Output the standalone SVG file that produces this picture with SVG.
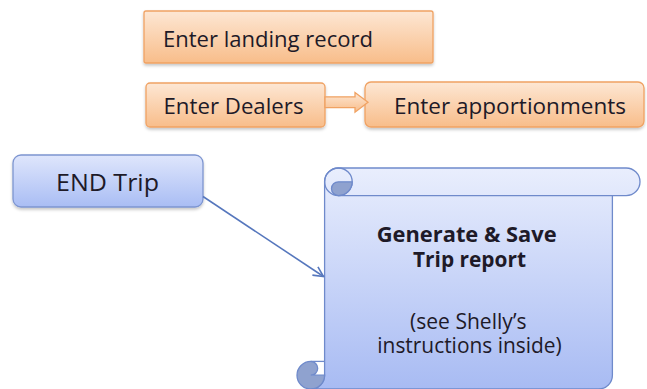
<svg xmlns="http://www.w3.org/2000/svg" width="647" height="389" viewBox="0 0 647 389">
  <defs>
    <linearGradient id="gOrange" x1="0" y1="0" x2="0" y2="1">
      <stop offset="0" stop-color="#fde7d4"/>
      <stop offset="1" stop-color="#f8bd8a"/>
    </linearGradient>
    <linearGradient id="gBlue" x1="0" y1="0" x2="0" y2="1">
      <stop offset="0" stop-color="#dfe6fc"/>
      <stop offset="1" stop-color="#a9bdf4"/>
    </linearGradient>
    <linearGradient id="gScroll" x1="0" y1="0" x2="0" y2="221" gradientUnits="userSpaceOnUse">
      <stop offset="0" stop-color="#e9eefd"/>
      <stop offset="1" stop-color="#a8bbf3"/>
    </linearGradient>
    <filter id="shadow" x="-10%" y="-20%" width="120%" height="150%">
      <feDropShadow dx="0" dy="2" stdDeviation="1.5" flood-color="#000" flood-opacity="0.22"/>
    </filter>
    <marker id="openArrow" viewBox="0 0 12 12" refX="11" refY="6" markerWidth="12" markerHeight="12" markerUnits="userSpaceOnUse" orient="auto">
      <path d="M1,1 L11,6 L1,11" fill="none" stroke="#5677bd" stroke-width="1.6"/>
    </marker>
    <style>
      .orange { fill: url(#gOrange); stroke: #f0a263; stroke-width: 1.3; }
      .blue { fill: url(#gBlue); stroke: #7d95d0; stroke-width: 1.3; }
      .lbl { font-family: "Open Sans", "Noto Sans", "Liberation Sans", sans-serif; font-size: 21px; fill: #1e1a28; }
      .bold { font-weight: bold; }
      .scrollLine { fill: none; stroke: #6f8acb; stroke-width: 1.3; }
      .scrollDark { fill: #8fa2cf; stroke: #6f8acb; stroke-width: 1.3; }
    </style>
  </defs>

  <g id="landing-record">
    <rect class="orange" x="144" y="11" width="289" height="52" rx="2" filter="url(#shadow)"/>
    <text class="lbl" x="163" y="46.5" textLength="210" lengthAdjust="spacingAndGlyphs">Enter landing record</text>
  </g>

  <g id="dealers">
    <rect class="orange" x="146" y="83" width="179" height="44" rx="4" filter="url(#shadow)"/>
    <text class="lbl" x="163.5" y="114" textLength="140" lengthAdjust="spacingAndGlyphs">Enter Dealers</text>
  </g>

  <g id="apportionments">
    <rect class="orange" x="365" y="82" width="279" height="45" rx="6" filter="url(#shadow)"/>
    <text class="lbl" x="394" y="114" textLength="232" lengthAdjust="spacingAndGlyphs">Enter apportionments</text>
  </g>

  <g id="end-trip">
    <rect class="blue" x="13" y="155" width="190" height="52" rx="8" filter="url(#shadow)"/>
    <text class="lbl" x="56" y="190.5" style="font-size:23px" textLength="103" lengthAdjust="spacingAndGlyphs">END Trip</text>
  </g>

  <g id="trip-report">
    <g transform="translate(297,168)">
      <!-- scroll body -->
      <path d="M13.8,221 A13.8,13.8 0 0 0 27.6,207.2 L27.6,13.8 A13.8,13.8 0 0 1 41.4,0 L329.2,0 A13.8,13.8 0 0 1 329.2,27.6 L315.4,27.6 L315.4,207.2 A13.8,13.8 0 0 1 301.6,221 Z" fill="url(#gScroll)" stroke="#6f8acb" stroke-width="1.3"/>
      <!-- top roll -->
      <path class="scrollLine" d="M41.4,27.6 L315.4,27.6"/>
      <circle class="scrollLine" cx="41.4" cy="13.8" r="13.8" fill="#e6ecfc"/>
      <path class="scrollDark" d="M55.2,13.8 A13.8,13.8 0 0 1 41.4,27.6 A6.9,6.9 0 0 1 41.4,13.8 Z"/>
      <!-- bottom curl -->
      <path class="scrollDark" d="M13.8,193.4 A13.8,13.8 0 1 0 27.6,207.2 L13.8,207.2 A6.9,6.9 0 0 0 13.8,193.4 Z"/>
      <path class="scrollLine" d="M13.8,193.4 L27.6,193.4"/>
    </g>
    <text class="lbl bold" x="376.7" y="241.5" textLength="180" lengthAdjust="spacingAndGlyphs">Generate &amp; Save</text>
    <text class="lbl bold" x="413" y="267" textLength="113" lengthAdjust="spacingAndGlyphs">Trip report</text>
    <text class="lbl" x="410" y="328.5" textLength="116.5" lengthAdjust="spacingAndGlyphs">(see Shelly’s</text>
    <text class="lbl" x="377.3" y="352.5" textLength="184.4" lengthAdjust="spacingAndGlyphs">instructions inside)</text>
  </g>

  <g id="connectors">
    <!-- block arrow: dealers to apportionments -->
    <path d="M325,96.8 L355,96.8 L355,92.5 L368,102.3 L355,112.3 L355,107.6 L325,107.6 Z" fill="url(#gOrange)" stroke="#f0a263" stroke-width="1.3"/>
    <!-- END Trip to report -->
    <line x1="203" y1="196.5" x2="323.5" y2="276.5" stroke="#5677bd" stroke-width="1.6" marker-end="url(#openArrow)"/>
  </g>
</svg>
